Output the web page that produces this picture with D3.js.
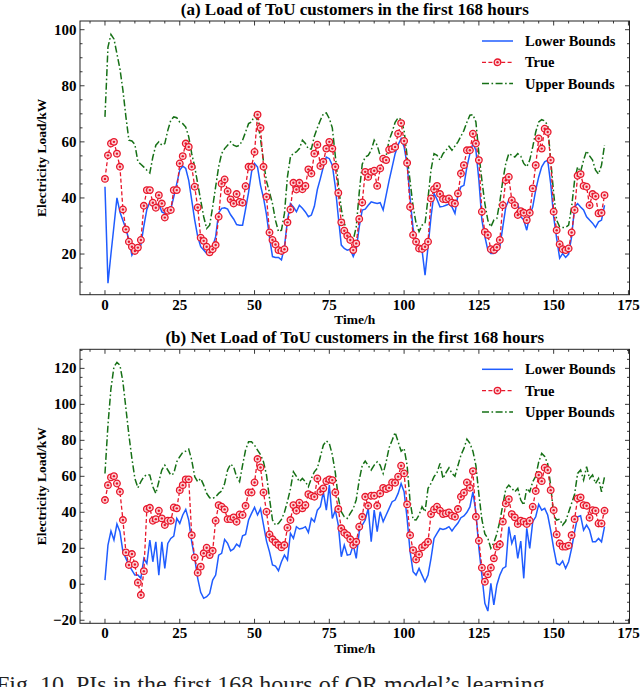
<!DOCTYPE html>
<html>
<head>
<meta charset="utf-8">
<script src="https://cdnjs.cloudflare.com/ajax/libs/d3/7.8.5/d3.min.js"></script>
<style>
  body{margin:0;background:#fff;}
  svg{display:block;}
  text{font-family:"Liberation Serif","Times New Roman",serif;}
</style>
</head>
<body>
<svg id="mainsvg" width="640" height="687"></svg>
<script>
// hour index of every sample
var hours = d3.range(168);
var xTicks = [0, 25, 50, 75, 100, 125, 150, 175];

// (a) load
var aLower = [44,9.6,20,30,40,35,32,29,25,19.6,21.7,21.4,23.2,30,35.9,38.6,36.8,37,38,35,
  34.5,35.7,36,40.4,45.1,49.9,51.4,50.5,46.3,39.2,32.1,26.2,22.6,21.4,20.2,20.8,22.6,26.2,34.7,36.3,
  36.5,36,34,32.5,30.5,30.3,30.3,36,42,49.3,52.3,51,44.5,40,34,26,19.1,18.8,18.8,17.9,
  22.6,32.1,38,36.8,35.1,37.4,36.3,35,33.3,33.9,37,43,46.9,51.1,54.6,54,51.7,44,33.3,23.2,
  22,21.4,21.7,19.1,21.7,29.7,35.7,36,37.4,38.6,38.3,38,38.3,35.7,41,46.3,51,55.8,59,61.2,
  58.2,52,40,29,25,21,21.4,12.5,22.6,33.3,41.6,39.5,36.8,37,37.4,37.8,36.8,34.5,41,44,
  44.5,51.1,55.8,59.4,57,46.3,32.1,26.2,21.4,20.2,20.2,20.8,22.6,29.7,36.8,39.2,38.6,38.3,38,33.3,
  32.1,28.5,33.9,36.8,42.8,47.5,51.1,52.9,53.5,45.1,33.3,25.6,18.5,20.2,18.8,20,26.2,36.8,38,36.8,
  35.7,33.3,32.1,31,29.5,31.5,32.1,37.4];
var aTrue = [46.8,55.2,59.4,60,55.8,51.1,35.9,28.8,24.4,22.6,21.1,22.3,25,37.2,42.8,42.8,38.3,36.5,41,38,
  33,35.4,35.7,42.8,42.8,52.3,54.9,59.4,58.2,51.1,44,36.6,25.8,24.7,22.6,20.6,21.7,23.2,33.3,45.1,
  46.6,42.4,39.5,38,41.4,38.6,38.3,44.2,51.1,51.1,56.4,69.7,65,51.1,40.4,27.7,25,23.4,21.4,21.1,
  21.7,31.3,35.9,45.4,43,45.4,43.1,44.3,50.2,48.7,55.8,59,51.4,52.9,57.6,60,57.6,51.1,41.8,31.3,
  28.3,26.5,25,21.4,23.8,32.5,38.4,49.3,47.5,49.3,49.7,44.3,50.5,54,53.5,57.2,57.5,58.2,62.9,66.7,
  60.3,52.5,36.8,26.8,24.4,22,21.8,22.6,24.4,39.8,43.1,44.3,41.4,39.6,39.5,39.8,38.3,38,41.6,48.7,
  51.7,57,57,62.9,59.4,53.5,35.1,27.9,26.8,21.7,21.4,22.4,25,37.4,46.3,47.5,39.2,37.4,33.9,35.3,
  34.7,32.1,34.7,43.4,51.7,61.2,57.6,64.7,63.5,53.5,35.1,28.5,23.5,21.7,21.4,22,27.7,35.7,47.9,48.5,
  44.3,44,37.4,41.4,40.6,34.5,34.7,41];
var aUpper = [68.9,93.8,98.3,96.7,91.4,86,78.4,68.9,60.6,60.3,59.1,52.9,52,51,49.9,48.9,54.6,58.8,60,58.8,
  59.4,64.1,67.7,68.9,68.6,67,66.5,65.3,61.8,55.8,51.1,45.1,39.2,33.3,29.1,30.3,36.8,44,51.1,55.8,
  57.6,58.8,60,58.8,58.4,58.8,60.6,63.5,66.5,67.1,69.5,67.7,61,53,46,42,38,32,28,28.5,
  34.5,47.5,54.6,56,56.4,57.6,60.6,59.4,57.5,57.5,62,65,67.7,70,70.3,68.3,65,55,45,36,
  31,28,26,25,29.7,42,52,54.6,55.2,57,60.6,58.8,55,52.9,55,60.6,63.5,67,68.6,68,
  64,55,46,37,31,28,30.3,30.9,40,50,55.8,55.2,53.5,55.8,57,58.4,57,58.5,60,62,
  64.1,67,69.5,69.7,67.1,55.8,46.3,38,32,29.7,32.1,32.7,38.6,46.3,52.3,55.8,55.2,54.6,55.8,54.9,
  52.3,51.1,53.5,58.2,63.5,67.1,67.9,67.5,65.9,53.5,41.6,32.1,29.7,29.5,29.5,30.3,36.8,46.3,51.1,49.3,
  53.5,56.8,55,53.5,49.9,48.5,51.7,58.8];

// (b) net load
var bLower = [2.3,21.8,29.6,24.6,33.5,29.2,18.1,14.4,10.7,7.9,5.1,5.1,3.3,14.4,11.6,24.6,12.5,23.6,5.1,23.6,
  8.8,22.7,25.5,26.8,36.6,33.8,38.5,41.6,35.7,23.6,14.4,3.3,-4.5,-7.8,-6.9,-5.1,2.3,5.1,16.2,17.2,
  24.9,22.7,18.6,19.6,22.3,20.9,27,27.7,35.7,39.4,42.7,38.5,42,33,24,18,10.7,10.1,7.5,12.5,
  16.2,13.5,28.3,25.5,32,30.7,31.1,32,28.8,36.6,34.8,41.2,43.1,51.4,41.2,55.1,36.6,41.2,32.9,15.3,
  21.8,16.2,16.6,21.8,14.4,29.2,32.9,35.7,42.2,23.6,41.2,29.2,40.3,34.8,38.5,42.2,45.9,46.8,50.5,56,
  51.4,36.6,18.1,7,5.1,8.8,5.1,1.4,5.1,14.4,25.5,28.3,31,30.5,31,32,29.6,32,34,37,
  38,40,43,51.4,40,20,5,-10.6,-14.9,0.5,-11.5,-0.4,5.1,8.8,9.8,32,22.7,27.3,14.4,24,
  3.3,31.1,19.9,34.8,37.5,44.4,41.2,42.2,38.5,30,20,11.6,10.7,12.9,8.8,12.5,19.9,29.2,37.5,38.1,
  30.1,32.9,30.1,23.6,23.6,25.5,23.6,32];
var bTrue = [46.8,55.1,59.4,60.1,56,51.4,35.7,17.7,10.7,16.8,11,0.9,-6,7.3,41.8,42.5,35.3,36.2,40.9,36.6,
  32.9,35.3,35.3,42.7,42.2,52.3,55.1,58.3,58.3,27.3,14.9,6.4,9.8,17.2,20.3,16.2,18.6,35.3,44,43.1,
  41.6,36.2,36.2,37.2,34.7,38.8,38.5,43.6,51,51,56.6,69.6,64.9,51,40.3,27.7,25,23.3,21.8,20.5,
  21.8,31.4,35.7,44,40.9,45.3,42.2,44,50.1,49.2,48.6,58.8,51.4,53.3,57.3,58.3,57.9,51,41.8,31.1,
  28.6,27.3,25,21.8,23.6,32,37.5,48.6,43.6,49.2,49.2,43.6,50.5,53.6,52.9,53.6,56.6,56.4,59.8,65.9,
  61.6,44.4,27.3,19,13.8,16.6,20.5,21.8,23.6,39,41.6,43.1,40.9,39,39.4,39.9,38.1,37.5,41.8,48.6,
  50.9,56.6,53.6,62.9,37.5,24.2,9.2,1.4,5.5,9.2,14.4,20.9,22.2,34.8,44.9,47.3,39,37.2,33.5,35.3,
  34.8,33.5,35.3,43.1,51.8,60.7,57.3,64.8,63.5,52.3,41.2,27.7,22.7,20.9,20.9,21.5,27.3,36.2,47.7,48.3,
  44,43.6,37,41.2,40.9,33.8,33.8,40.9];
var bUpper = [61.6,88.5,108.8,120.9,123.3,121.8,112.5,97.7,82.9,69.9,58.8,53.6,57,59.8,61,60.7,54.2,50.5,57,63.5,
  66.2,63.5,60.7,61.6,68.1,70.9,73.3,74,75.1,69,59.8,57,58.8,55.1,50.5,48.1,47.7,48.6,50.5,51.8,
  56,63.5,66.8,65.3,59.8,57,66.2,74.6,79.2,79.2,77.3,74.6,72,68,60.7,47.7,35.7,32.9,33.8,36,
  40,46,53,62.5,60,57,58.8,57,54.2,58.8,62.5,64.5,70.9,77.3,79.7,78.3,72,62,48,40.3,
  37.5,36.6,39.4,42,47,58,66,68.5,66,63.5,66.2,68,66.2,61.6,68,76,80,84.4,79.2,74,
  75.5,66.2,46,36,35.7,38.5,43.1,40.3,53.3,56,59.8,62,67.2,58.8,62,64.7,61.6,60,66,71.8,
  75.5,80.7,78.3,74,66,50,36,28,25.5,20,23,28,35,44,53,55.1,53.3,51.4,53.3,46.8,
  44,53.3,51.4,57,60,68,72.7,71,67,55,38,35.7,36.2,32.9,35,40,45,50,61.6,63.5,
  57.9,65.3,58.8,60.7,56,58.8,51.4,59.8];

var seriesNames = ["Lower Bounds", "True", "Upper Bounds"];
var seriesColors = ["#1f5cff", "#e8182c", "#167016"];

var svg = d3.select("#mainsvg");
var left = 80, right = 629.5;

var x = d3.scaleLinear().domain([-8.35, 175.35]).range([left, right]);

function drawPanel(top, bottom, yDomain, yTicks, title, data){
    var y = d3.scaleLinear().domain(yDomain).range([bottom, top]);
    var g = svg.append("g");

    g.append("defs").append("clipPath")
        .attr("id", "clip" + top)
        .append("rect")
        .attr("x", left).attr("y", top)
        .attr("width", right - left).attr("height", bottom - top);

    var plot = g.append("g").attr("clip-path", "url(#clip" + top + ")");

    var line = d3.line()
        .x(function(d, i){ return x(hours[i]); })
        .y(function(d){ return y(d); });

    plot.append("path")
        .attr("d", line(data[0]))
        .attr("fill", "none")
        .attr("stroke", seriesColors[0])
        .attr("stroke-width", 1.5);

    plot.append("path")
        .attr("d", line(data[2]))
        .attr("fill", "none")
        .attr("stroke", seriesColors[2])
        .attr("stroke-width", 1.5)
        .attr("stroke-dasharray", "7,2.5,1.6,2.5");

    plot.append("path")
        .attr("d", line(data[1]))
        .attr("fill", "none")
        .attr("stroke", seriesColors[1])
        .attr("stroke-width", 1.3)
        .attr("stroke-dasharray", "4,2.4");

    var dots = plot.selectAll(".dot")
        .data(data[1])
        .enter().append("g")
        .attr("transform", function(d, i){
            return "translate(" + x(hours[i]) + "," + y(d) + ")";
        });
    dots.append("circle")
        .attr("r", 3.3)
        .attr("fill", "#fbd0d4")
        .attr("stroke", seriesColors[1])
        .attr("stroke-width", 1.3);
    dots.append("circle")
        .attr("r", 1.2)
        .attr("fill", seriesColors[1]);

    // frame
    g.append("rect")
        .attr("x", left).attr("y", top)
        .attr("width", right - left).attr("height", bottom - top)
        .attr("fill", "none")
        .attr("stroke", "#222")
        .attr("stroke-width", 1);

    // inward ticks on all four sides
    var xMinor = d3.range(-5, 176, 5);
    var yStep = yTicks[1] - yTicks[0];
    var yMinor = d3.range(Math.ceil(yDomain[0] / (yStep / 4)) * (yStep / 4), yDomain[1], yStep / 4);
    var tk = g.append("g").attr("stroke", "#222").attr("stroke-width", 0.9);

    xMinor.forEach(function(v){
        var len = (xTicks.indexOf(v) >= 0) ? 4.5 : 2.5;
        var px = x(v);
        tk.append("line").attr("x1", px).attr("x2", px).attr("y1", bottom).attr("y2", bottom - len);
        tk.append("line").attr("x1", px).attr("x2", px).attr("y1", top).attr("y2", top + len);
    });
    yMinor.forEach(function(v){
        var major = Math.abs(v / yStep - Math.round(v / yStep)) < 1e-6;
        var len = major ? 4.5 : 2.5;
        var py = y(v);
        tk.append("line").attr("x1", left).attr("x2", left + len).attr("y1", py).attr("y2", py);
        tk.append("line").attr("x1", right).attr("x2", right - len).attr("y1", py).attr("y2", py);
    });

    // tick labels
    g.selectAll(".xl").data(xTicks).enter().append("text")
        .attr("x", function(d){ return x(d); })
        .attr("y", bottom + 15)
        .attr("text-anchor", "middle")
        .attr("font-size", 15).attr("font-weight", "bold")
        .text(function(d){ return d; });

    g.selectAll(".yl").data(yTicks).enter().append("text")
        .attr("x", left - 3.5)
        .attr("y", function(d){ return y(d) + 5; })
        .attr("text-anchor", "end")
        .attr("font-size", 15).attr("font-weight", "bold")
        .text(function(d){ return d < 0 ? "\u2212" + Math.abs(d) : d; });

    // axis labels and title
    g.append("text")
        .attr("x", (left + right) / 2).attr("y", bottom + 29.5)
        .attr("text-anchor", "middle")
        .attr("font-size", 13.5).attr("font-weight", "bold")
        .text("Time/h");

    g.append("text")
        .attr("transform", "translate(46," + ((top + bottom) / 2) + ") rotate(-90)")
        .attr("text-anchor", "middle")
        .attr("font-size", 13.5).attr("font-weight", "bold")
        .text("Electricity Load/kW");

    g.append("text")
        .attr("x", (left + right) / 2).attr("y", top - 6.3)
        .attr("text-anchor", "middle")
        .attr("font-size", 17).attr("font-weight", "bold")
        .text(title);

    // legend
    var lg = g.append("g").attr("transform", "translate(482," + (top + 20) + ")");
    seriesNames.forEach(function(name, i){
        var row = lg.append("g").attr("transform", "translate(0," + (i * 21.3) + ")");
        var ln = row.append("line")
            .attr("x1", 0).attr("x2", 31).attr("y1", 0).attr("y2", 0)
            .attr("stroke", seriesColors[i])
            .attr("stroke-width", i === 1 ? 1.3 : 1.5);
        if(i === 1){
            ln.attr("stroke-dasharray", "4,2.4");
            row.append("circle").attr("cx", 15.5).attr("r", 3.3)
                .attr("fill", "#fbd0d4").attr("stroke", seriesColors[1]).attr("stroke-width", 1.3);
            row.append("circle").attr("cx", 15.5).attr("r", 1.2).attr("fill", seriesColors[1]);
        }
        if(i === 2){ ln.attr("stroke-dasharray", "7,2.5,1.6,2.5"); }
        row.append("text")
            .attr("x", 43).attr("y", 5)
            .attr("font-size", 14.5).attr("font-weight", "bold")
            .text(name);
    });
}

drawPanel(21, 294.7, [5.5, 103.1], [20, 40, 60, 80, 100],
    "(a) Load of ToU customers in the first 168 hours", [aLower, aTrue, aUpper]);
drawPanel(349.3, 623.3, [-21.7, 130.6], [-20, 0, 20, 40, 60, 80, 100, 120],
    "(b) Net Load of ToU customers in the first 168 hours", [bLower, bTrue, bUpper]);

// caption of the source figure, cut by the bottom edge
svg.append("text")
    .attr("x", -4).attr("y", 692)
    .attr("font-size", 24).attr("fill", "#222")
    .text("Fig. 10.  PIs in the first 168 hours of QR model\u2019s learning");
</script>
</body>
</html>
